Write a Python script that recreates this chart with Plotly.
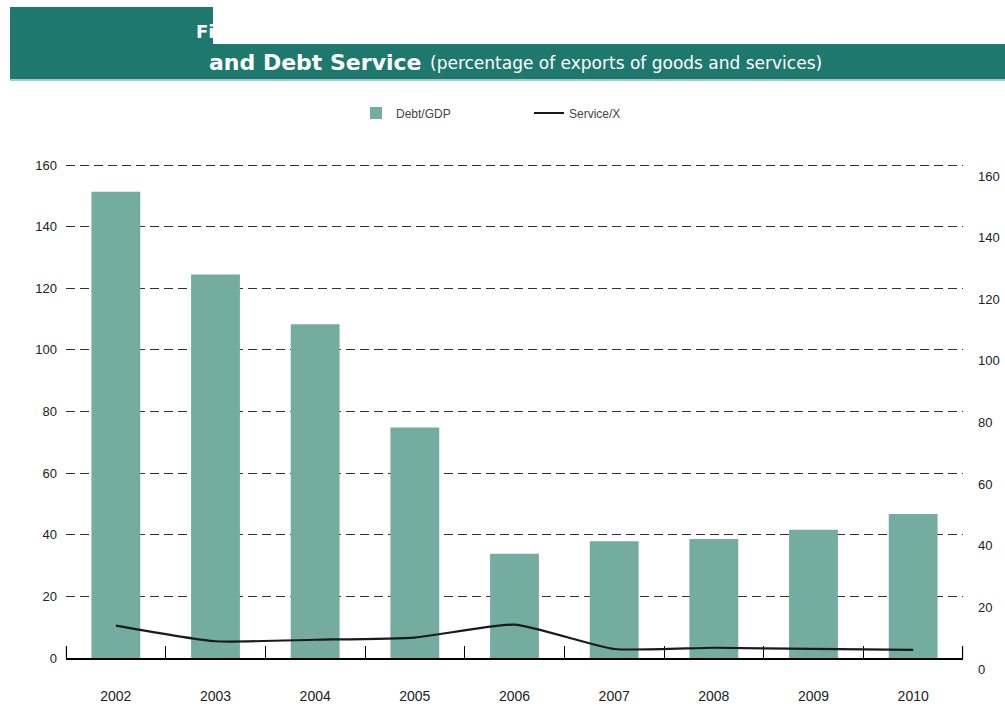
import plotly.graph_objects as go

# ---- data -------------------------------------------------------------
years = ["2002", "2003", "2004", "2005", "2006", "2007", "2008", "2009", "2010"]
debt_gdp = [151.3, 124.5, 108.3, 74.8, 33.8, 37.9, 38.6, 41.6, 46.7]
service_x = [14.1, 9.0, 9.5, 10.2, 14.4, 6.5, 6.9, 6.5, 6.2]
axis_ticks = [0, 20, 40, 60, 80, 100, 120, 140, 160]

# ---- geometry (pixels) ------------------------------------------------
W, H = 1005, 728
L, R, T, B = 66, 42, 162, 59
PW, PH = W - L - R, H - T - B
SHIFT = 11          # right-hand scale sits a few pixels lower than the left one
PX_PER_UNIT = 493 / 160
AXIS_PX = H - B - SHIFT   # pixel row of the category axis
Y_TOP = (PH - SHIFT) / PX_PER_UNIT   # top of the value range, a hair above 160


def px_x(px):
    return (px - L) / PW


def px_y(py):
    return (H - B - py) / PH


BAR = "#74ad9f"
TEAL = "#1f786e"
TXT = "#222222"
FONT = "Liberation Sans, Arial, sans-serif"

fig = go.Figure()

fig.add_trace(go.Bar(
    x=years, y=debt_gdp, name="Debt/GDP",
    marker=dict(color=BAR, line=dict(width=0)),
    xaxis="x", yaxis="y", legend="legend",
))

fig.add_trace(go.Scatter(
    x=years, y=service_x, name="Service/X", mode="lines",
    line=dict(color="#1a1a1a", width=2.2, shape="spline", smoothing=0.5),
    xaxis="x", yaxis="y2", legend="legend2",
))

legend_font = dict(family=FONT, size=12, color="#444")

fig.update_layout(
    width=W, height=H,
    margin=dict(l=L, r=R, t=T, b=B, pad=0, autoexpand=False),
    paper_bgcolor="white",
    plot_bgcolor="rgba(0,0,0,0)",
    bargap=0.51,
    showlegend=True,
    xaxis=dict(
        type="category", anchor="y", domain=[0, 1], automargin=False,
        showline=True, linecolor="black", linewidth=1.6,
        ticks="inside", tickson="boundaries", ticklen=12,
        tickcolor="black", tickwidth=1,
        showgrid=False, zeroline=False,
        ticklabelstandoff=24,
        tickfont=dict(family=FONT, size=14, color=TXT),
    ),
    yaxis=dict(
        domain=[SHIFT / PH, 1], range=[0, Y_TOP], automargin=False,
        tickvals=axis_ticks, showline=False, zeroline=False,
        showgrid=True, gridcolor="#333333", gridwidth=1.3, griddash="9px,5px",
        ticks="", ticklabelstandoff=8,
        tickfont=dict(family=FONT, size=13, color=TXT),
    ),
    yaxis2=dict(
        domain=[0, 1 - SHIFT / PH], range=[0, Y_TOP], anchor="x", side="right",
        automargin=False,
        tickvals=axis_ticks, showline=False, zeroline=False, showgrid=False,
        ticks="", ticklabelstandoff=14,
        tickfont=dict(family=FONT, size=13, color=TXT),
    ),
    legend=dict(
        orientation="h", x=px_x(356), xanchor="left", y=px_y(113), yanchor="middle",
        font=legend_font, bgcolor="rgba(0,0,0,0)", borderwidth=0,
    ),
    legend2=dict(
        orientation="h", x=px_x(529), xanchor="left", y=px_y(113), yanchor="middle",
        font=legend_font, bgcolor="rgba(0,0,0,0)", borderwidth=0,
    ),
    shapes=[
        # title banner
        dict(type="rect", xref="paper", yref="paper",
             x0=px_x(10), x1=px_x(1005), y0=px_y(79), y1=px_y(7),
             fillcolor=TEAL, line=dict(width=0), layer="below"),
        dict(type="line", xref="paper", yref="paper",
             x0=px_x(10), x1=px_x(1005), y0=px_y(80), y1=px_y(80),
             line=dict(color="#9fcfca", width=2), layer="below"),
        # blank panel over the upper title line
        dict(type="rect", xref="paper", yref="paper",
             x0=px_x(213), x1=px_x(1005), y0=px_y(44), y1=px_y(-2),
             fillcolor="white", line=dict(width=0), layer="below"),
        # end ticks of the category axis
        dict(type="line", xref="paper", yref="paper",
             x0=0.0005, x1=0.0005, y0=px_y(AXIS_PX), y1=px_y(AXIS_PX - 12),
             line=dict(color="black", width=1.2)),
        dict(type="line", xref="paper", yref="paper",
             x0=0.9995, x1=0.9995, y0=px_y(AXIS_PX), y1=px_y(AXIS_PX - 12),
             line=dict(color="black", width=1.2)),
    ],
    annotations=[
        dict(text="<b>Fi</b>", xref="paper", yref="paper",
             x=px_x(194), y=px_y(31), xanchor="left", yanchor="middle",
             showarrow=False,
             font=dict(family="DejaVu Sans", size=18, color="white")),
        dict(text="<b>and Debt Service</b>", xref="paper", yref="paper",
             x=px_x(207), y=px_y(62), xanchor="left", yanchor="middle",
             showarrow=False,
             font=dict(family="DejaVu Sans", size=22, color="white")),
        dict(text="(percentage of exports of goods and services)", xref="paper", yref="paper",
             x=px_x(428), y=px_y(63), xanchor="left", yanchor="middle",
             showarrow=False,
             font=dict(family="DejaVu Sans", size=17, color="white")),
    ],
)

fig.write_html("out.html")
